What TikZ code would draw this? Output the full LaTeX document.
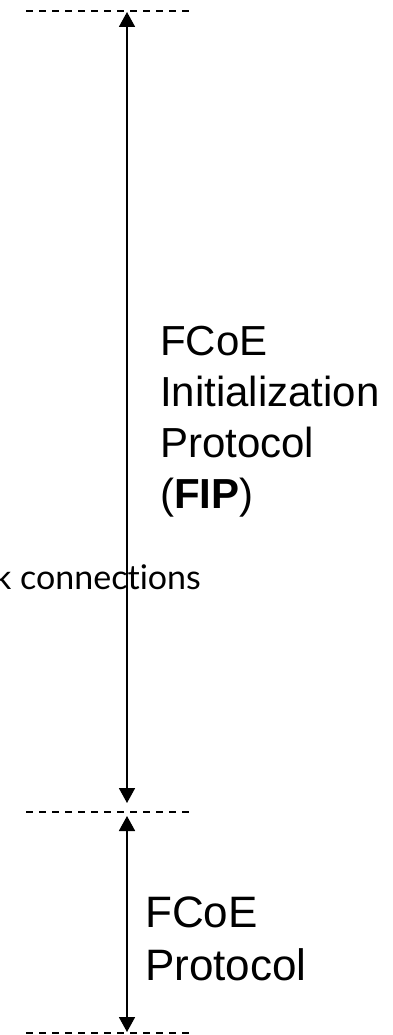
\documentclass[tikz,border=0pt]{standalone}
\usepackage{fontspec}
\setmainfont{Liberation Sans}
\newfontfamily\gillfont[Ligatures=NoCommon]{Lato}
\usetikzlibrary{arrows.meta}
\tikzset{
  sep/.style={line width=2pt, dash pattern=on 7pt off 6pt},
  span/.style={line width=1.8pt, {Triangle[width=16pt,length=15pt]}-{Triangle[width=16pt,length=15pt]}},
  biglbl/.style={inner sep=0pt, anchor=base west, font=\fontsize{42}{50}\selectfont},
  lowlbl/.style={inner sep=0pt, anchor=base west, font=\fontsize{44}{53}\selectfont},
  linklbl/.style={inner sep=0pt, anchor=base east, font=\gillfont\fontsize{34}{39}\selectfont}
}
\begin{document}
\begin{tikzpicture}[x=1pt,y=1pt]
\useasboundingbox (0,0) rectangle (393,-1035);
% separators
\coordinate (t1) at (26,-11);  \coordinate (t2) at (195,-11);
\coordinate (m1) at (26,-812); \coordinate (m2) at (195,-812);
\coordinate (b1) at (26,-1033); \coordinate (b2) at (195,-1033);
\draw[sep] (t1) -- (t2);
\draw[sep] (m1) -- (m2);
\draw[sep] (b1) -- (b2);
% arrows
\coordinate (a1) at (127,-12);  \coordinate (a2) at (127,-803);
\coordinate (c1) at (127,-816); \coordinate (c2) at (127,-1032);
\draw[span] (a1) -- (a2);
\draw[span] (c1) -- (c2);
% labels
\node[biglbl] (fip1) at (160,-355) {FCoE};
\node[biglbl] (fip2) at (160,-406) {Initialization};
\node[biglbl] (fip3) at (160,-457) {Protocol};
\node[biglbl] (fip4) at (160,-508) {(\textbf{FIP})};
\node[lowlbl] (fc1) at (145,-927) {FCoE};
\node[lowlbl] (fc2) at (145,-980) {Protocol};
\node[linklbl] (link) at (201,-589) {k connections};
\end{tikzpicture}
\end{document}
